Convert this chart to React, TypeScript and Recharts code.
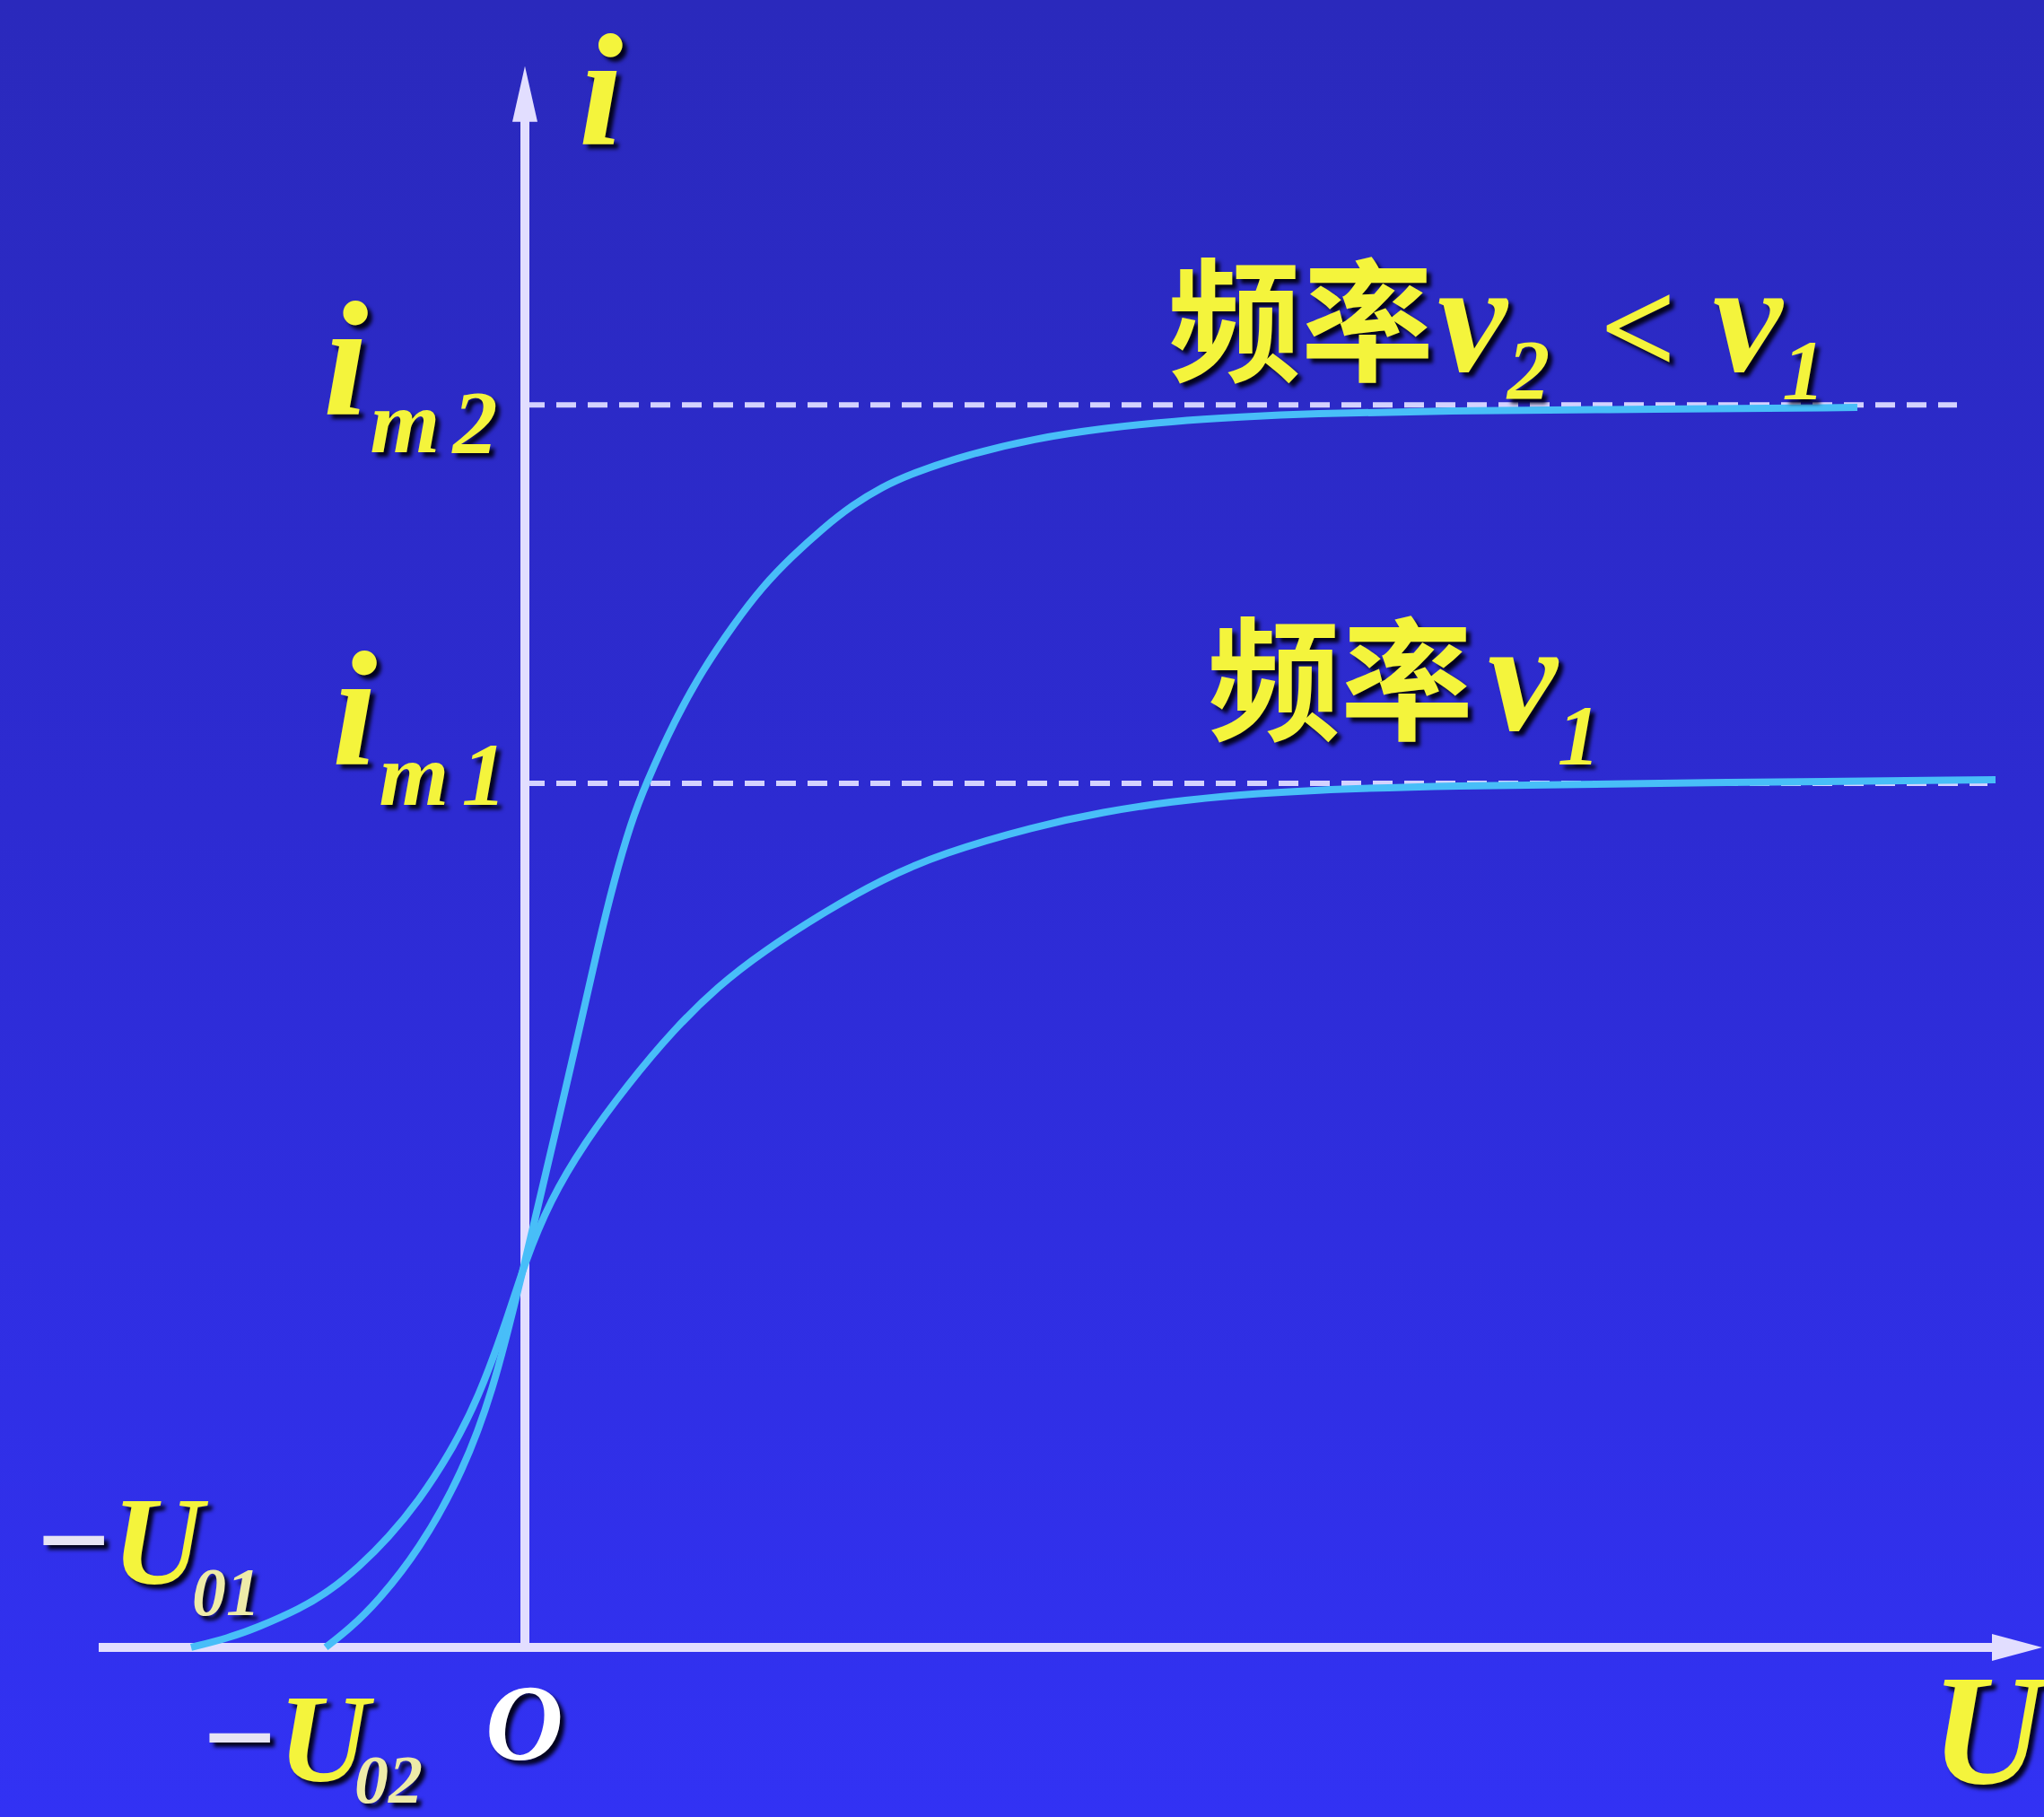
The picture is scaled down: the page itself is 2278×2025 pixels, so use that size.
import React from 'react';
import { ComposedChart, Line, XAxis, YAxis, ReferenceLine, Scatter } from 'recharts';

const WIDTH = 2278;
const HEIGHT = 2025;

// Photocurrent i against voltage U for two light frequencies (i in units of i_m1)
const nu1Curve = [
  { u: -3.72, i: 0 },
  { u: -3.3, i: 0.011 },
  { u: -2.98, i: 0.023 },
  { u: -2.5, i: 0.045 },
  { u: -2.18, i: 0.065 },
  { u: -1.85, i: 0.093 },
  { u: -1.52, i: 0.127 },
  { u: -1.18, i: 0.17 },
  { u: -0.85, i: 0.222 },
  { u: -0.52, i: 0.287 },
  { u: -0.18, i: 0.385 },
  { u: 0, i: 0.446 },
  { u: 0.28, i: 0.517 },
  { u: 0.65, i: 0.582 },
  { u: 1.15, i: 0.652 },
  { u: 1.65, i: 0.714 },
  { u: 2.15, i: 0.765 },
  { u: 2.65, i: 0.805 },
  { u: 3.32, i: 0.85 },
  { u: 3.98, i: 0.889 },
  { u: 4.65, i: 0.919 },
  { u: 5.68, i: 0.95 },
  { u: 6.45, i: 0.967 },
  { u: 7.21, i: 0.979 },
  { u: 7.98, i: 0.987 },
  { u: 8.74, i: 0.992 },
  { u: 10.15, i: 0.997 },
  { u: 13.15, i: 1.001 },
  { u: 16.39, i: 1.004 },
];

const nu2Curve = [
  { u: -2.22, i: 0 },
  { u: -1.95, i: 0.022 },
  { u: -1.65, i: 0.052 },
  { u: -1.18, i: 0.112 },
  { u: -0.68, i: 0.205 },
  { u: -0.35, i: 0.3 },
  { u: -0.12, i: 0.395 },
  { u: 0, i: 0.446 },
  { u: 0.14, i: 0.508 },
  { u: 0.37, i: 0.609 },
  { u: 0.6, i: 0.712 },
  { u: 0.82, i: 0.814 },
  { u: 0.99, i: 0.886 },
  { u: 1.18, i: 0.954 },
  { u: 1.35, i: 1.0 },
  { u: 1.67, i: 1.073 },
  { u: 1.98, i: 1.131 },
  { u: 2.32, i: 1.183 },
  { u: 2.65, i: 1.228 },
  { u: 2.98, i: 1.263 },
  { u: 3.32, i: 1.295 },
  { u: 3.65, i: 1.322 },
  { u: 3.98, i: 1.343 },
  { u: 4.32, i: 1.359 },
  { u: 4.92, i: 1.38 },
  { u: 5.68, i: 1.399 },
  { u: 6.45, i: 1.411 },
  { u: 7.21, i: 1.419 },
  { u: 7.98, i: 1.424 },
  { u: 8.74, i: 1.428 },
  { u: 10.15, i: 1.431 },
  { u: 12.65, i: 1.433 },
  { u: 14.85, i: 1.435 },
];

// Saturation currents
const I_M1 = 1.0;
const I_M2 = 1.438;

// Axis extents (data units)
const U_START = -4.75;
const U_END = 16.91;
const I_END = 1.83;
const X_DOMAIN = [-5.85, 16.93];
const Y_DOMAIN = [-0.1963, 1.9065];

// Dashed guide ends
const IM1_GUIDE_END = 16.3;
const IM2_GUIDE_END = 15.96;

// Arrow tips of the two axes
const arrowTips = [
  { u: U_END, i: 0, dir: 'x' },
  { u: 0, i: I_END, dir: 'y' },
];

// Anchors (baseline, left edge) of the text labels
const labelAnchors = [
  { key: 'iAxis', u: 0.6, i: 1.739 },
  { key: 'im2', u: -2.25, i: 1.4268 },
  { key: 'im1', u: -2.15, i: 1.0218 },
  { key: 'nu2', u: 7.17, i: 1.4777 },
  { key: 'nu1', u: 7.61, i: 1.0623 },
  { key: 'u01', u: -5.48, i: 0.0737 },
  { key: 'u02', u: -3.63, i: -0.1547 },
  { key: 'origin', u: -0.44, i: -0.1298 },
  { key: 'uAxis', u: 15.67, i: -0.1568 },
];

const SERIF = '"Liberation Serif", "Times New Roman", serif';
const CJK = '"Noto Sans CJK SC", sans-serif';
const YELLOW = '#F4F43C';
const PALE = '#EEEBA8';
const AXIS = '#E2DEFF';
const CURVE = '#48BEF8';
const GUIDE = '#D4D2FF';
const SHADOW = 'drop-shadow(5px 5px 2px rgba(0,0,20,0.95))';

const textBase = {
  fontFamily: SERIF,
  fontWeight: 700,
  fontStyle: 'italic' as const,
  fill: YELLOW,
  style: { filter: SHADOW },
};

function renderLabel(key: string, x: number, y: number) {
  switch (key) {
    case 'iAxis':
      return (
        <text x={x} y={y} fontSize={178} {...textBase}>
          i
        </text>
      );
    case 'im2':
    case 'im1': {
      const sub = key === 'im2' ? '2' : '1';
      const drop = key === 'im2' ? 42 : 45;
      return (
        <text x={x} y={y} {...textBase}>
          <tspan fontSize={182}>i</tspan>
          <tspan fontSize={100} dx={2} dy={drop}>m</tspan>
          <tspan fontSize={100} dx={14}>{sub}</tspan>
        </text>
      );
    }
    case 'nu2':
      return (
        <text x={x} y={y} {...textBase}>
          <tspan fontFamily={CJK} fontStyle="normal" fontWeight={700} fontSize={148}>频率</tspan>
          <tspan fontSize={175} dx={4}>ν</tspan>
          <tspan fontSize={95} dy={32}>2</tspan>
          <tspan fontSize={150} fontStyle="normal" dx={56} dy={-29}>&lt;</tspan>
          <tspan fontSize={175} dx={40} dy={-3}>ν</tspan>
          <tspan fontSize={95} dy={32}>1</tspan>
        </text>
      );
    case 'nu1':
      return (
        <text x={x} y={y} {...textBase}>
          <tspan fontFamily={CJK} fontStyle="normal" fontWeight={700} fontSize={148}>频率</tspan>
          <tspan fontSize={175} dx={16}>ν</tspan>
          <tspan fontSize={95} dy={39}>1</tspan>
        </text>
      );
    case 'u01':
    case 'u02': {
      const sub = key === 'u01' ? '01' : '02';
      const drop = key === 'u01' ? 35 : 24;
      const shift = key === 'u01' ? -12 : -16;
      return (
        <text x={x} y={y} {...textBase}>
          <tspan fontSize={145} fill="#E6E4F4">−</tspan>
          <tspan fontSize={140}>U</tspan>
          <tspan fontSize={76} fill={PALE} dx={shift} dy={drop}>{sub}</tspan>
        </text>
      );
    }
    case 'origin':
      return (
        <text x={x} y={y} fontSize={120} {...textBase} fill="#FFFFFF">
          O
        </text>
      );
    case 'uAxis':
      return (
        <text x={x} y={y} fontSize={175} {...textBase}>
          U
        </text>
      );
    default:
      return <g />;
  }
}

const LabelShape = (props: any) => {
  const { cx, cy, payload } = props;
  if (cx == null || cy == null || !payload) return <g />;
  return renderLabel(payload.key, cx, cy);
};

const ArrowShape = (props: any) => {
  const { cx, cy, payload } = props;
  if (cx == null || cy == null || !payload) return <g />;
  const pts =
    payload.dir === 'x'
      ? `${cx},${cy} ${cx - 56},${cy - 15} ${cx - 56},${cy + 15}`
      : `${cx},${cy} ${cx - 14},${cy + 62} ${cx + 14},${cy + 62}`;
  return <polygon points={pts} fill={AXIS} />;
};

export default function App() {
  return (
    <div
      style={{
        position: 'absolute',
        left: 0,
        top: 0,
        width: WIDTH,
        height: HEIGHT,
        background: 'linear-gradient(to bottom, #2A29BC 0%, #2D2BD2 45%, #3232F4 100%)',
      }}
    >
      <ComposedChart width={WIDTH} height={HEIGHT} margin={{ top: 0, right: 0, bottom: 0, left: 0 }}>
        <XAxis type="number" dataKey="u" domain={X_DOMAIN} hide allowDataOverflow />
        <YAxis type="number" dataKey="i" domain={Y_DOMAIN} hide allowDataOverflow />

        {/* saturation guides */}
        <ReferenceLine
          segment={[{ x: 0, y: I_M2 }, { x: IM2_GUIDE_END, y: I_M2 }]}
          stroke={GUIDE}
          strokeWidth={6}
          strokeDasharray="22 13"
        />
        <ReferenceLine
          segment={[{ x: 0, y: I_M1 }, { x: IM1_GUIDE_END, y: I_M1 }]}
          stroke={GUIDE}
          strokeWidth={6}
          strokeDasharray="22 13"
        />

        {/* axes */}
        <ReferenceLine segment={[{ x: U_START, y: 0 }, { x: U_END - 0.5, y: 0 }]} stroke={AXIS} strokeWidth={10} />
        <ReferenceLine segment={[{ x: 0, y: 0 }, { x: 0, y: I_END - 0.05 }]} stroke={AXIS} strokeWidth={10} />

        <Line
          data={nu1Curve}
          dataKey="i"
          type="basis"
          stroke={CURVE}
          strokeWidth={8}
          dot={false}
          activeDot={false}
          isAnimationActive={false}
        />
        <Line
          data={nu2Curve}
          dataKey="i"
          type="basis"
          stroke={CURVE}
          strokeWidth={8}
          dot={false}
          activeDot={false}
          isAnimationActive={false}
        />

        <Scatter data={arrowTips} dataKey="i" shape={<ArrowShape />} isAnimationActive={false} />
        <Scatter data={labelAnchors} dataKey="i" shape={<LabelShape />} isAnimationActive={false} />
      </ComposedChart>
    </div>
  );
}
